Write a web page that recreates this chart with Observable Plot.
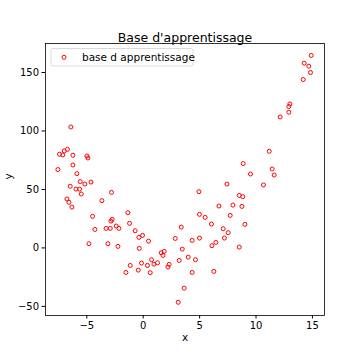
<!DOCTYPE html>
<html><head><meta charset="utf-8">
<script src="https://cdn.jsdelivr.net/npm/d3@7"></script>
<script src="https://cdn.jsdelivr.net/npm/@observablehq/plot@0.6"></script>
<style>body{margin:0;background:#fff}</style>
</head><body><div id="chart"></div>
<script>
const title = "Base d'apprentissage";
const seriesName = "base d apprentissage";
const xLabel = "x";
const yLabel = "y";
const xTicks = [-5, 0, 5, 10, 15];
const yTicks = [-50, 0, 50, 100, 150];
const xs = [-7.56,-7.42,-7.12,-7.0,-6.71,-6.23,-6.23,-5.88,-6.47,-5.96,-5.64,-5.58,-5.49,-5.17,-4.99,-4.90,-4.63,-6.76,-6.58,-6.32,
  -4.49,-4.28,-4.81,-3.66,-2.81,-3.28,-2.92,-2.86,-2.75,-3.13,-2.39,-2.15,-2.24,-1.36,-1.21,-0.71,-0.38,-0.06,-0.35,0.47,
  -1.15,-1.53,-0.44,-0.15,0.38,0.62,0.74,0.95,1.27,1.60,1.75,1.86,2.19,2.30,2.84,3.19,3.37,3.46,3.63,3.10,
  3.99,4.34,4.34,4.63,4.94,4.99,4.99,-6.41,11.17,8.86,11.43,9.51,11.61,7.42,10.66,8.51,8.83,6.71,7.95,8.75,
  5.49,7.71,6.05,9.01,7.09,7.53,7.20,6.44,6.09,8.51,6.26,14.89,14.27,14.68,14.83,14.18,13.0,12.91,12.91,12.14];
const ys = [67.0,80.1,79.5,82.9,84.3,79.2,70.9,63.5,52.7,50.3,50.3,56.7,46.1,54.6,78.6,76.9,56.3,41.8,39.0,34.9,
  27.0,15.8,3.6,40.4,47.5,16.7,16.7,22.9,24.4,3.6,18.7,16.7,1.3,30.1,21.0,14.7,9.0,10.7,-0.4,5.8,
  -15.0,-21.0,-19.0,-13.0,-15.0,-21.2,-10.1,-13.9,-12.7,-4.1,-6.4,-3.0,-16.4,-14.1,8.1,-10.7,17.8,-1.0,-34.4,-46.5,
  -7.9,6.4,-21.0,-10.1,48.1,28.7,8.4,103.4,82.6,72.1,67.5,63.2,62.3,54.6,53.8,44.9,43.8,35.8,36.6,35.5,
  26.1,27.8,20.4,20.1,16.4,13.0,8.4,4.7,1.9,0.7,-20.1,164.6,158.0,155.4,150.0,144.0,123.1,120.9,116.0,112.0];
const data = xs.map((x, i) => ({x, y: ys[i]}));
const fmt = d => d < 0 ? "\u2212" + Math.abs(d) : String(d);
const font = "DejaVu Sans";

const chart = Plot.plot({
  width: 360, height: 360,
  marginLeft: 45, marginRight: 36, marginTop: 43, marginBottom: 45,
  style: {fontFamily: font, fontSize: "10px", color: "black", background: "white"},
  x: {domain: [-8.66, 16.07]},
  y: {domain: [-57.8, 174.8]},
  marks: [
    Plot.axisX({ticks: xTicks, tickSize: 3.5, tickPadding: 3, tickFormat: fmt, label: null, fontSize: 10}),
    Plot.axisY({ticks: yTicks, tickSize: 3.5, tickPadding: 3, tickFormat: fmt, label: null, fontSize: 10}),
    Plot.dot(data, {x: "x", y: "y", r: 2, stroke: "red", fill: "none", strokeWidth: 1}),
    Plot.frame({stroke: "black", strokeWidth: 0.8}),
    Plot.text([title], {frameAnchor: "top", dy: -10, text: d => d, fontSize: 12.5, fill: "black"}),
    Plot.text([xLabel], {frameAnchor: "bottom", dy: 25, text: d => d, fontSize: 10.5, fill: "black"}),
    Plot.text([yLabel], {frameAnchor: "left", dx: -37, rotate: -90, text: d => d, fontSize: 10.5, fill: "black"})
  ]
});
const svg = d3.select(chart);
const lg = svg.append("g");
lg.append("rect").attr("x", 51).attr("y", 48.5).attr("width", 142).attr("height", 17.5)
  .attr("rx", 2).attr("fill", "white").attr("fill-opacity", 0.8).attr("stroke", "#d0d0d0").attr("stroke-width", 0.8);
lg.append("circle").attr("cx", 64).attr("cy", 57.3).attr("r", 2).attr("fill", "none").attr("stroke", "red");
lg.append("text").attr("x", 82).attr("y", 57.3).attr("dy", "0.35em").attr("font-size", 10.5)
  .attr("text-anchor", "start").attr("font-family", font).attr("fill", "black").text(seriesName);
document.getElementById("chart").appendChild(chart);
</script>
</body></html>
